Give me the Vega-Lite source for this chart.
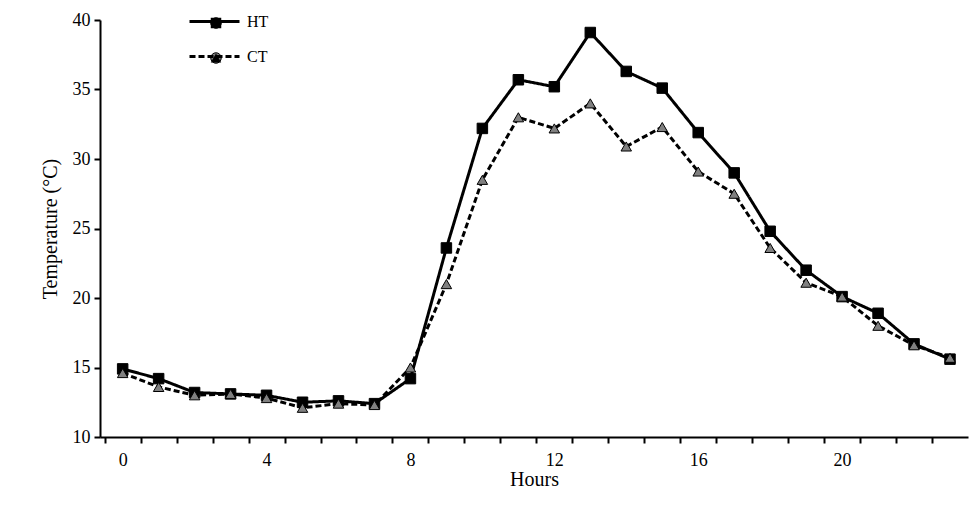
{
  "$schema": "https://vega.github.io/schema/vega-lite/v6.json",
  "width": 868,
  "height": 417,
  "autosize": "none",
  "padding": {"left": 100, "top": 20, "right": 3, "bottom": 69},
  "background": "white",
  "data": {"values": [
    {"h":0,"s":"HT","t":14.9},{"h":1,"s":"HT","t":14.2},{"h":2,"s":"HT","t":13.2},{"h":3,"s":"HT","t":13.1},
    {"h":4,"s":"HT","t":13.0},{"h":5,"s":"HT","t":12.5},{"h":6,"s":"HT","t":12.6},{"h":7,"s":"HT","t":12.4},
    {"h":8,"s":"HT","t":14.2},{"h":9,"s":"HT","t":23.6},{"h":10,"s":"HT","t":32.2},{"h":11,"s":"HT","t":35.7},
    {"h":12,"s":"HT","t":35.2},{"h":13,"s":"HT","t":39.1},{"h":14,"s":"HT","t":36.3},{"h":15,"s":"HT","t":35.1},
    {"h":16,"s":"HT","t":31.9},{"h":17,"s":"HT","t":29.0},{"h":18,"s":"HT","t":24.8},{"h":19,"s":"HT","t":22.0},
    {"h":20,"s":"HT","t":20.1},{"h":21,"s":"HT","t":18.9},{"h":22,"s":"HT","t":16.7},{"h":23,"s":"HT","t":15.6},
    {"h":0,"s":"CT","t":14.6},{"h":1,"s":"CT","t":13.6},{"h":2,"s":"CT","t":13.0},{"h":3,"s":"CT","t":13.1},
    {"h":4,"s":"CT","t":12.8},{"h":5,"s":"CT","t":12.1},{"h":6,"s":"CT","t":12.4},{"h":7,"s":"CT","t":12.3},
    {"h":8,"s":"CT","t":15.0},{"h":9,"s":"CT","t":21.0},{"h":10,"s":"CT","t":28.5},{"h":11,"s":"CT","t":33.0},
    {"h":12,"s":"CT","t":32.2},{"h":13,"s":"CT","t":34.0},{"h":14,"s":"CT","t":30.9},{"h":15,"s":"CT","t":32.3},
    {"h":16,"s":"CT","t":29.1},{"h":17,"s":"CT","t":27.5},{"h":18,"s":"CT","t":23.6},{"h":19,"s":"CT","t":21.1},
    {"h":20,"s":"CT","t":20.1},{"h":21,"s":"CT","t":18.0},{"h":22,"s":"CT","t":16.6},{"h":23,"s":"CT","t":15.7}
  ]},
  "resolve": {"axis": {"x": "independent"}, "legend": {"strokeDash": "independent", "shape": "independent"}},
  "encoding": {
    "y": {"field": "t", "type": "quantitative", "title": "Temperature (°C)",
      "scale": {"domain": [10, 40], "nice": false, "zero": false},
      "axis": {"values": [10,15,20,25,30,35,40], "grid": false, "titlePadding": 12}}
  },
  "layer": [
    {"mark": {"type": "line", "strokeWidth": 3, "color": "black"},
     "encoding": {
       "x": {"field": "h", "type": "quantitative", "title": null,
         "scale": {"domain": [-0.63, 23.5], "nice": false, "zero": false},
         "axis": {"orient": "bottom", "values": [-0.5,0.5,1.5,2.5,3.5,4.5,5.5,6.5,7.5,8.5,9.5,10.5,11.5,12.5,13.5,14.5,15.5,16.5,17.5,18.5,19.5,20.5,21.5,22.5], "labels": false, "grid": false}},
       "strokeDash": {"field": "s", "type": "nominal",
         "scale": {"domain": ["HT","CT"], "range": [[1,0],[6,3]]},
         "legend": {"orient": "none", "legendX": 88, "legendY": -25, "title": null, "symbolType": "stroke", "symbolSize": 2500, "symbolStrokeWidth": 3, "rowPadding": -20, "labelOffset": 6}}}},
    {"mark": {"type": "point", "filled": true, "size": 110, "stroke": "black", "strokeWidth": 1, "opacity": 1},
     "encoding": {
       "x": {"field": "h", "type": "quantitative", "title": "Hours",
         "scale": {"domain": [-0.63, 23.5], "nice": false, "zero": false},
         "axis": {"orient": "bottom", "values": [0,4,8,12,16,20], "grid": false, "titlePadding": 0, "ticks": false, "labelPadding": 14, "domain": false}},
       "shape": {"field": "s", "type": "nominal", "scale": {"domain": ["HT","CT"], "range": ["square","triangle-up"]},
         "legend": {"orient": "none", "legendX": 108, "legendY": -5, "title": null, "labelOpacity": 0, "rowPadding": 19, "symbolStrokeWidth": 1}},
       "fill": {"field": "s", "type": "nominal", "scale": {"domain": ["HT","CT"], "range": ["black","#808080"]},
         "legend": {"orient": "none", "legendX": 108, "legendY": -5, "title": null, "labelOpacity": 0, "rowPadding": 19, "symbolStrokeWidth": 1}}}}
  ],
  "config": {
    "font": "Liberation Serif",
    "view": {"stroke": null},
    "axis": {"domainColor": "black", "tickColor": "black", "labelColor": "black", "titleColor": "black", "domainWidth": 2, "tickWidth": 2,
      "labelFontSize": 18, "titleFontSize": 20, "titleFontWeight": "normal", "tickSize": 6, "labelPadding": 4},
    "legend": {"labelFont": "Liberation Serif", "labelColor": "black", "labelFontSize": 16, "symbolSize": 110, "symbolStrokeColor": "black", "padding": 0}
  }
}
